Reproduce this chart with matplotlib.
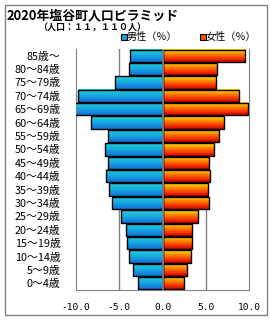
import numpy as np
import matplotlib
matplotlib.use("Agg")
import matplotlib.pyplot as plt
from matplotlib.colors import LinearSegmentedColormap
from matplotlib.patches import Rectangle

plt.rcParams['font.family'] = ['Noto Sans CJK JP', 'DejaVu Sans']

# Age groups, bottom to top
ages = ["0～4歳", "5～9歳", "10～14歳", "15～19歳", "20～24歳", "25～29歳",
        "30～34歳", "35～39歳", "40～44歳", "45～49歳", "50～54歳", "55～59歳",
        "60～64歳", "65～69歳", "70～74歳", "75～79歳", "80～84歳", "85歳～"]
male = [2.8, 3.4, 3.9, 4.1, 4.2, 4.8, 5.9, 6.2, 6.5, 6.3, 6.6, 6.3,
        8.3, 10.2, 9.8, 5.5, 3.9, 3.8]
female = [2.5, 2.8, 3.3, 3.4, 3.4, 4.1, 5.3, 5.2, 5.5, 5.4, 5.9, 6.5,
          7.1, 9.8, 8.8, 6.2, 6.3, 9.5]
xticks = [-10, -5, 0, 5, 10]

blue_cmap = LinearSegmentedColormap.from_list("b", ["#1070d8", "#18a8e0", "#20d4d4"])
red_cmap = LinearSegmentedColormap.from_list("r", ["#c80000", "#ff4000", "#ff9000", "#ffe800"])
grad = np.linspace(0, 1, 64).reshape(-1, 1)

fig = plt.figure(figsize=(2.7, 3.2), dpi=100)
ax = fig.add_axes([76 / 270, 1 - 290 / 320, 173.3 / 270, 241 / 320])

y = np.arange(len(ages))
h = 0.92
for yi, m, f in zip(y, male, female):
    ax.imshow(grad, cmap=blue_cmap, origin="lower", aspect="auto",
              extent=[-m, 0, yi - h / 2, yi + h / 2], zorder=2)
    ax.imshow(grad, cmap=red_cmap, origin="lower", aspect="auto",
              extent=[0, f, yi - h / 2, yi + h / 2], zorder=2)
ax.barh(y, [-m for m in male], height=h, facecolor="none",
        edgecolor="black", linewidth=1.0, zorder=3)
ax.barh(y, female, height=h, facecolor="none",
        edgecolor="black", linewidth=1.0, zorder=3)
ax.axvline(0, color="#808080", linewidth=1.3, zorder=4)

ax.set_xlim(-10, 10)
ax.set_ylim(-0.5, len(ages) - 0.5)
ax.set_xticks(xticks)
ax.set_xticklabels([f"{v:.1f}" for v in xticks], fontsize=6.8,
                   family=["DejaVu Sans Mono"])
ax.set_yticks(y)
ax.set_yticklabels(ages, fontsize=7.8)
ax.tick_params(axis="both", length=0)
ax.tick_params(axis="y", pad=11)
ax.tick_params(axis="x", pad=9)
for x in (-5, 5):
    ax.axvline(x, color="#808080", linewidth=1.0, zorder=1)
for s in ("left", "right", "bottom"):
    ax.spines[s].set_color("#808080")
ax.spines["top"].set_visible(False)

# legend
fig.patches.append(Rectangle((121 / 270, 1 - 40 / 320), 6 / 270, 6 / 320,
                             transform=fig.transFigure, facecolor="#18a0e0",
                             edgecolor="black", linewidth=0.8))
fig.text(127 / 270, 1 - 37 / 320, "男性（％）", fontsize=7.3, va="center")
fig.patches.append(Rectangle((200 / 270, 1 - 40 / 320), 6 / 270, 6 / 320,
                             transform=fig.transFigure, facecolor="#ff5000",
                             edgecolor="black", linewidth=0.8))
fig.text(206 / 270, 1 - 37 / 320, "女性（％）", fontsize=7.3, va="center")

fig.text(7 / 270, 1 - 15 / 320, "2020年塩谷町人口ピラミッド", fontsize=9.3,
         fontweight="bold", va="center")
fig.text(38 / 270, 1 - 28 / 320, "（人口：１１，１１０人）", fontsize=6.5,
         fontweight="bold", va="center")

fig.patches.append(Rectangle((5 / 270, 5 / 320), 262 / 270, 310 / 320,
                             transform=fig.transFigure, facecolor="none",
                             edgecolor="#808080", linewidth=1.0))

fig.savefig("out.png", dpi=100)
